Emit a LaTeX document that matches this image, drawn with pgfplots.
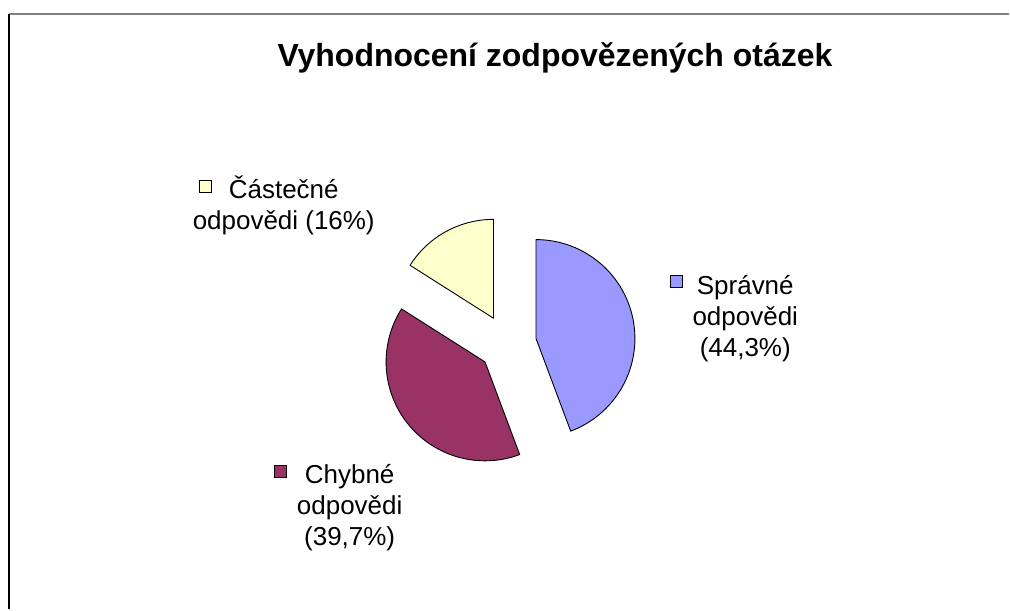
\documentclass[border=0pt]{standalone}
\usepackage{pgfplots}
\usepackage{pgfplotstable}
\pgfplotsset{compat=1.18}
\usepackage{fontspec}
\setmainfont{Liberation Sans}
\definecolor{cS}{HTML}{9999FF}
\definecolor{cC}{HTML}{993366}
\definecolor{cP}{HTML}{FFFFCC}
\definecolor{frameg}{HTML}{808080}

\pgfplotstableread{
value
44.3
39.7
16
}\piedata

\pgfplotstablegetelem{0}{value}\of\piedata \let\vS\pgfplotsretval
\pgfplotstablegetelem{1}{value}\of\piedata \let\vC\pgfplotsretval
\pgfplotstablegetelem{2}{value}\of\piedata \let\vP\pgfplotsretval

\pgfmathsetmacro\aA{90}
\pgfmathsetmacro\aB{\aA-3.6*\vS}
\pgfmathsetmacro\aC{\aB-3.6*\vC}
\pgfmathsetmacro\aD{\aC-3.6*\vP}

\def\Ox{508}
\def\Oy{266}
\def\R{99}
\def\E{29}

\newcommand\slice[3]{%
  \pgfmathsetmacro\mid{(#1+#2)/2}%
  \pgfmathsetmacro\cx{\Ox+\E*cos(\mid)}%
  \pgfmathsetmacro\cy{\Oy+\E*sin(\mid)}%
  \edef\doslice{\noexpand\addplot[draw=black, fill=#3, line width=0.9pt, line join=round,
     domain=#2:#1, samples=120, smooth]
     ({\cx+\R*cos(x)},{\cy+\R*sin(x)}) -- (axis cs:\cx,\cy) -- cycle;}%
  \doslice
}

\begin{document}
\begin{tikzpicture}
\begin{axis}[width=1010pt, height=610pt, scale only axis,
  xmin=0, xmax=1010, ymin=0, ymax=610, hide axis, clip=false]
\path (axis cs:0,0) rectangle (axis cs:1010,610);
% frame
\draw[frameg, line width=2pt] (axis cs:9,596) -- (axis cs:1010,596);
\draw[black, line width=1.5pt] (axis cs:9,596) -- (axis cs:9,0);

% slices
\slice{\aA}{\aB}{cS}
\slice{\aB}{\aC}{cC}
\slice{\aC}{\aD}{cP}

% title
\node[anchor=base, font=\fontsize{32}{38}\selectfont\bfseries] at (axis cs:555.5,543) {Vyhodnocení zodpovězených otázek};

% labels
\begin{scope}[every node/.style={anchor=base, font=\fontsize{26}{31}\selectfont}]
\node at (axis cs:746,315) {Správné};
\node at (axis cs:746,284) {odpovědi};
\node at (axis cs:746,253) {(44,3\%)};
\node at (axis cs:350,126) {Chybné};
\node at (axis cs:350,95) {odpovědi};
\node at (axis cs:350,64) {(39,7\%)};
\node at (axis cs:284,411) {Částečné};
\node at (axis cs:284,380) {odpovědi (16\%)};
\end{scope}

% legend keys
\filldraw[fill=cS, draw=black, line width=1pt] (axis cs:671,322) rectangle (axis cs:683,334);
\filldraw[fill=cC, draw=black, line width=1pt] (axis cs:275,132) rectangle (axis cs:287,144);
\filldraw[fill=cP, draw=black, line width=1pt] (axis cs:200,417) rectangle (axis cs:212,429);
\end{axis}
\end{tikzpicture}
\end{document}
